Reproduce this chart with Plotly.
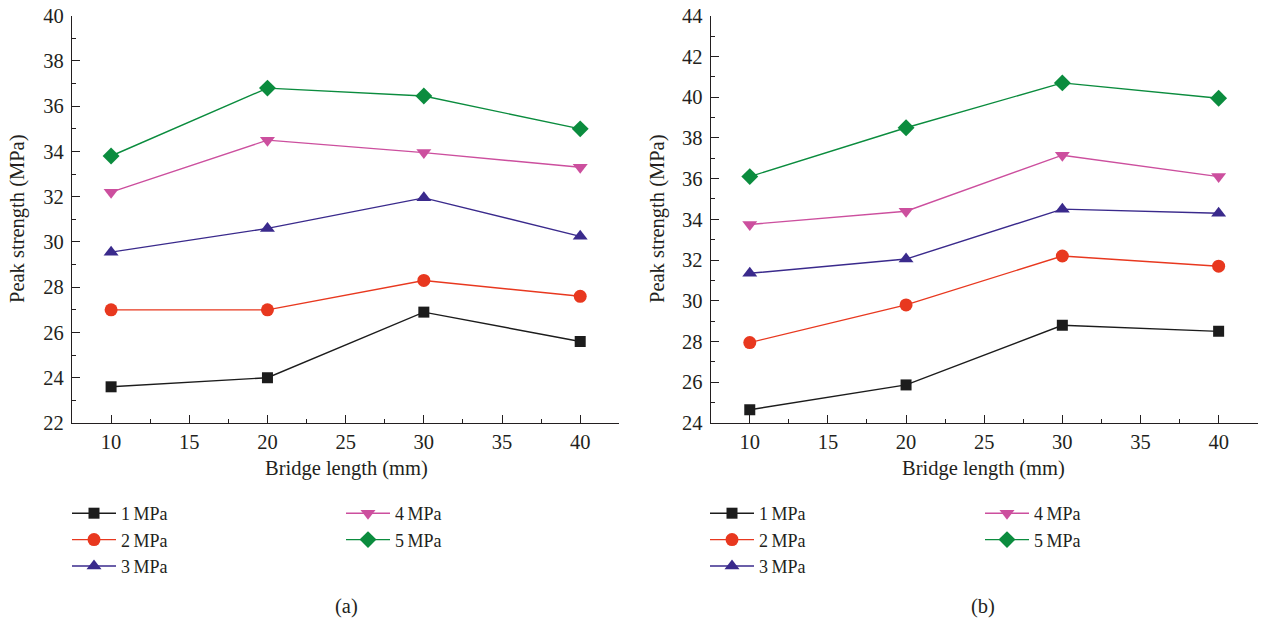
import plotly.graph_objects as go

bridge_length = [10, 20, 30, 40]
series_labels = ["1\u2009MPa", "2\u2009MPa", "3\u2009MPa", "4\u2009MPa", "5\u2009MPa"]

# Panel (a)
a_1 = [23.6, 24.0, 26.9, 25.6]
a_2 = [27.0, 27.0, 28.3, 27.6]
a_3 = [29.55, 30.6, 31.95, 30.25]
a_4 = [32.2, 34.5, 33.95, 33.3]
a_5 = [33.8, 36.8, 36.45, 35.0]

# Panel (b)
b_1 = [24.65, 25.87, 28.8, 28.5]
b_2 = [27.95, 29.8, 32.2, 31.7]
b_3 = [31.35, 32.05, 34.5, 34.3]
b_4 = [33.75, 34.4, 37.15, 36.1]
b_5 = [36.1, 38.5, 40.7, 39.95]

colors = ["#1c1c1c", "#e8381f", "#3a2a8c", "#cc4f9e", "#0b8c3e"]
symbols = ["square", "circle", "triangle-up", "triangle-down", "diamond"]
msizes = [11, 13, 13, 13, 13]

FONT = "Liberation Serif"
TXT = "#231f20"
FS = 20.5
LFS = 18

fig = go.Figure()

panels = [
    ([a_1, a_2, a_3, a_4, a_5], "x", "y", ["legend", "legend", "legend", "legend2", "legend2"]),
    ([b_1, b_2, b_3, b_4, b_5], "x2", "y2", ["legend3", "legend3", "legend3", "legend4", "legend4"]),
]
for data, xa, ya, legs in panels:
    for i, vals in enumerate(data):
        fig.add_trace(go.Scatter(
            x=bridge_length, y=vals, mode="lines+markers",
            name=series_labels[i], xaxis=xa, yaxis=ya, legend=legs[i],
            line=dict(color=colors[i], width=1.4),
            marker=dict(symbol=symbols[i], size=msizes[i], color=colors[i]),
        ))

W, H = 1261, 622
def px_x(p):
    return p / W
def px_y(p):
    return 1 - p / H

axis_common = dict(
    showline=True, linecolor=TXT, linewidth=1.3, showgrid=False, zeroline=False,
    ticks="inside", ticklen=8, tickwidth=1.3, tickcolor=TXT,
    tickfont=dict(family=FONT, size=FS, color=TXT),
    mirror=False, automargin=False,
)
xcommon = dict(axis_common, tickmode="linear", tick0=10, dtick=5, range=[7.5, 42.5],
               minor=dict(ticks="inside", ticklen=4, tickwidth=1.3, tickcolor=TXT, tick0=7.5, dtick=2.5),
               ticklabelstandoff=0)
ycommon = dict(axis_common, tickmode="linear", dtick=2,
               minor=dict(ticks="inside", ticklen=4, tickwidth=1.3, tickcolor=TXT, dtick=1),
               ticklabelstandoff=3)

ydom = [px_y(423), px_y(15.7)]
fig.update_layout(
    width=W, height=H,
    margin=dict(l=0, r=0, t=0, b=0, autoexpand=False),
    paper_bgcolor="white", plot_bgcolor="white",
    showlegend=True,
    xaxis=dict(xcommon, domain=[px_x(72), px_x(619.3)], anchor="y"),
    yaxis=dict(ycommon, domain=ydom, range=[22, 40], tick0=22, anchor="x"),
    xaxis2=dict(xcommon, domain=[px_x(710.7), px_x(1257.7)], anchor="y2"),
    yaxis2=dict(ycommon, domain=ydom, range=[24, 44], tick0=24, anchor="x2"),
)

leg_common = dict(font=dict(family=FONT, size=LFS, color=TXT), bgcolor="rgba(0,0,0,0)",
                  orientation="v", xanchor="left", yanchor="top", itemwidth=44,
                  tracegroupgap=0, itemclick=False)
leg_y = px_y(495)
fig.update_layout(
    legend=dict(leg_common, x=px_x(67), y=leg_y),
    legend2=dict(leg_common, x=px_x(341), y=leg_y),
    legend3=dict(leg_common, x=px_x(705), y=leg_y),
    legend4=dict(leg_common, x=px_x(980), y=leg_y),
)

ann = []
for cx, label in [(346, "(a)"), (983, "(b)")]:
    ann.append(dict(x=px_x(cx), y=px_y(606), xref="paper", yref="paper", text=label,
                    showarrow=False, font=dict(family=FONT, size=FS, color=TXT),
                    xanchor="center", yanchor="middle"))
    ann.append(dict(x=px_x(cx), y=px_y(468), xref="paper", yref="paper", text="Bridge length (mm)",
                    showarrow=False, font=dict(family=FONT, size=FS, color=TXT),
                    xanchor="center", yanchor="middle"))
for cx in [18, 658]:
    ann.append(dict(x=px_x(cx), y=px_y(219), xref="paper", yref="paper", text="Peak strength (MPa)",
                    showarrow=False, textangle=-90, font=dict(family=FONT, size=FS, color=TXT),
                    xanchor="center", yanchor="middle"))
fig.update_layout(annotations=ann)

fig.write_html("out.html")
